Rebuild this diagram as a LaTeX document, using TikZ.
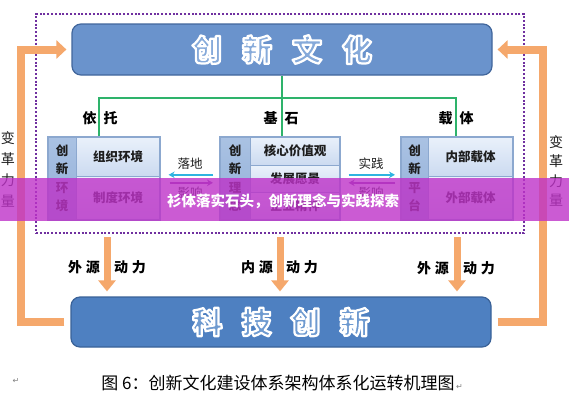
\documentclass[tikz,border=0pt]{standalone}
\usepackage{fontspec}
\newfontfamily\cjk{Noto Sans CJK SC}
\newfontfamily\dejavu{DejaVu Sans}
\usetikzlibrary{arrows.meta,calc}
\definecolor{topfill}{HTML}{6A93CC}
\definecolor{topdraw}{HTML}{41669C}
\definecolor{topin}{HTML}{86AADA}
\definecolor{botfill}{HTML}{4E80C1}
\definecolor{botdraw}{HTML}{3A6298}
\definecolor{botin}{HTML}{6E9AD0}
\definecolor{cellA}{HTML}{EAF1FB}
\definecolor{cellB}{HTML}{CBDAF0}
\definecolor{colA}{HTML}{AAC2E3}
\definecolor{colB}{HTML}{92AFD8}
\definecolor{celldraw}{HTML}{8CA8CF}
\definecolor{greenline}{HTML}{2EB36B}
\definecolor{orangeline}{HTML}{F5A86C}
\definecolor{framepurple}{HTML}{7030A0}
\definecolor{cyanarr}{HTML}{2FB4E0}
\definecolor{purplearr}{HTML}{8E3FA8}
\definecolor{bandcol}{RGB}{190,50,200}
\definecolor{txtdark}{HTML}{1E1E1E}
\newcommand\outl[2]{{\color{#1}\special{pdf:literal direct 2 Tr 2.2 w 1 j 1 1 1 RG}#2\special{pdf:literal direct 0 Tr 0.4 w 0 j}}}
\tikzset{
  bigbox/.style={rounded corners=9pt, line width=1.2pt, inner sep=0pt,
    font=\cjk\bfseries\fontsize{30}{32}\selectfont},
  cellbox/.style={anchor=north west, draw=celldraw, line width=1pt, inner sep=0pt,
    top color=cellA, bottom color=cellB, text=txtdark,
    font=\cjk\bfseries\fontsize{12.5}{14}\selectfont},
  colbox/.style={anchor=north west, draw=celldraw, line width=1pt, inner sep=0pt,
    top color=colA, bottom color=colB, text=txtdark, align=center,
    font=\cjk\bfseries\fontsize{12.5}{18.5}\selectfont},
  groupframe/.style={anchor=north west, draw=celldraw, line width=1.6pt, inner sep=0pt},
  gline/.style={draw=greenline, line width=1.5pt},
  lab/.style={text=black, inner sep=0pt, font=\cjk\bfseries\fontsize{14}{16}\selectfont},
  small/.style={text=txtdark, inner sep=0pt, font=\cjk\fontsize{12.5}{14}\selectfont},
  harr/.style={line width=1.6pt, -{Stealth[length=6pt,width=6.5pt]}},
  obar/.style={draw=orangeline, line width=8pt, line join=miter,
    -{Triangle[width=18pt,length=10pt]}},
  odown/.style={draw=orangeline, line width=7pt,
    -{Triangle[width=17pt,length=11pt]}, shorten >=5pt},
  vtext/.style={text=txtdark, align=center, inner sep=0pt},
  retmark/.style={text=gray, inner sep=0pt, font=\dejavu\fontsize{8}{9}\selectfont},
}
\begin{document}
\begin{tikzpicture}[x=1pt,y=-1pt,font=\cjk]
\useasboundingbox (0,0) rectangle (569,400);
\fill[white] (0,0) rectangle (569,400);

% dotted frame
\node[draw=framepurple, line width=2pt, dash pattern=on 2pt off 1.8pt,
  minimum width=488pt, minimum height=219pt, anchor=north west, inner sep=0pt] (frame) at (35,13) {};

% orange change-force loops
\coordinate (cL1) at (21,322);
\coordinate (cL2) at (21,49.5);
\coordinate (cR1) at (543,322);
\coordinate (cR2) at (543,49.5);

% big boxes
\node[bigbox, fill=topfill, draw=topdraw, minimum width=420pt, minimum height=51pt] (culture) at (282,49.5)
  {\outl{topin}{创\hspace{20pt}新\hspace{20pt}文\hspace{20pt}化}};
\node[bigbox, fill=botfill, draw=botdraw, minimum width=420pt, minimum height=50pt] (tech) at (281,322)
  {\outl{botin}{科\hspace{19pt}技\hspace{19pt}创\hspace{19pt}新}};

\draw[obar] ([xshift=-6pt]tech.west) -- (cL1) -- (cL2) -- ([xshift=-5pt]culture.west);
\draw[obar] ([xshift=6pt]tech.east) -- (cR1) -- (cR2) -- ([xshift=5pt]culture.east);

% left group
\node[colbox, minimum width=29pt, minimum height=83pt] (gLc) at (47,136) {创\\新\\环\\境};
\node[cellbox, minimum width=83pt, minimum height=40pt] (gLa) at (76,136) {组织环境};
\node[cellbox, minimum width=83pt, minimum height=43pt] (gLb) at (76,176) {制度环境};
\node[groupframe, minimum width=112pt, minimum height=83pt] (gL) at (47,136) {};

% middle group
\node[colbox, minimum width=31pt, minimum height=83pt] (gMc) at (219,136) {创\\新\\理\\念};
\node[cellbox, minimum width=89pt, minimum height=29pt] (gMa) at (250,136) {核心价值观};
\node[cellbox, minimum width=89pt, minimum height=27pt] (gMb) at (250,165) {发展愿景};
\node[cellbox, minimum width=89pt, minimum height=27pt] (gMd) at (250,192) {企业精神};
\node[groupframe, minimum width=120pt, minimum height=83pt] (gM) at (219,136) {};

% right group
\node[colbox, minimum width=28pt, minimum height=83pt] (gRc) at (400,136) {创\\新\\平\\台};
\node[cellbox, minimum width=84pt, minimum height=40pt] (gRa) at (428,136) {内部载体};
\node[cellbox, minimum width=84pt, minimum height=43pt] (gRb) at (428,176) {外部载体};
\node[groupframe, minimum width=112pt, minimum height=83pt] (gR) at (400,136) {};

% green connectors
\coordinate (jL) at (99,98);
\coordinate (jM) at (282,98);
\coordinate (jR) at (456,98);
\draw[gline] (culture.south -| jM) -- (jM |- gM.north);
\draw[gline] (jL |- gL.north) -- (jL) -- (jR) -- (jR |- gR.north);
\node[lab] (lblL) at (100,118) {依\hspace{7pt}托};
\node[lab] (lblM) at (281,118) {基\hspace{7pt}石};
\node[lab] (lblR) at (456,118) {载\hspace{7pt}体};

% horizontal arrows
\draw[harr, cyanarr] ($(gM.west)+(-6,-3.5)$) -- ($(gL.east)+(8,-3.5)$);
\draw[harr, purplearr] ($(gL.east)+(9,4.5)$) -- ($(gM.west)+(-6,4.5)$);
\draw[harr, cyanarr] ($(gM.east)+(8,-3.5)$) -- ($(gR.west)+(-5,-3.5)$);
\draw[harr, purplearr] ($(gR.west)+(-5,4.5)$) -- ($(gM.east)+(8,4.5)$);
\node[small] (tLand) at (190,164) {落地};
\node[small] (tInfL) at (190,193) {影响};
\node[small] (tPrac) at (371,164) {实践};
\node[small] (tInfR) at (371,193) {影响};

% down arrows
\coordinate (aL) at (107,237);
\coordinate (aM) at (280,237);
\coordinate (aR) at (457,237);
\draw[odown] (aL) -- (aL |- tech.north);
\draw[odown] (aM) -- (aM |- tech.north);
\draw[odown] (aR) -- (aR |- tech.north);
\node[lab] (dL1) at (84,267) {外\hspace{4pt}源};
\node[lab] (dL2) at (130,267) {动\hspace{4pt}力};
\node[lab] (dM1) at (257,267) {内\hspace{4pt}源};
\node[lab] (dM2) at (302,267) {动\hspace{4pt}力};
\node[lab] (dR1) at (433,268) {外\hspace{4pt}源};
\node[lab] (dR2) at (479,268) {动\hspace{4pt}力};

% side vertical texts
\node[vtext, font=\cjk\fontsize{14}{21}\selectfont] (vL) at (8,169) {变\\革\\力\\量};
\node[vtext, font=\cjk\fontsize{14}{19.5}\selectfont] (vR) at (556,171) {变\\革\\力\\量};

% caption
\node[inner sep=0pt, text=black, font=\cjk\fontsize{17}{20}\selectfont] (cap) at (278,383)
  {图 6：创新文化建设体系架构体系化运转机理图};
\node[retmark, anchor=west] (ret2) at ([xshift=1pt,yshift=-4pt]cap.east) {↵};
\node[retmark] (ret1) at (16,381) {↵};

% overlay band
\fill[bandcol, opacity=0.8] (0,178) rectangle (569,221);
\node[inner sep=0pt, text=white, font=\cjk\bfseries\fontsize{14.5}{16}\selectfont] (bandt) at (283,201)
  {衫体落实石头，创新理念与实践探索};
\end{tikzpicture}
\end{document}
